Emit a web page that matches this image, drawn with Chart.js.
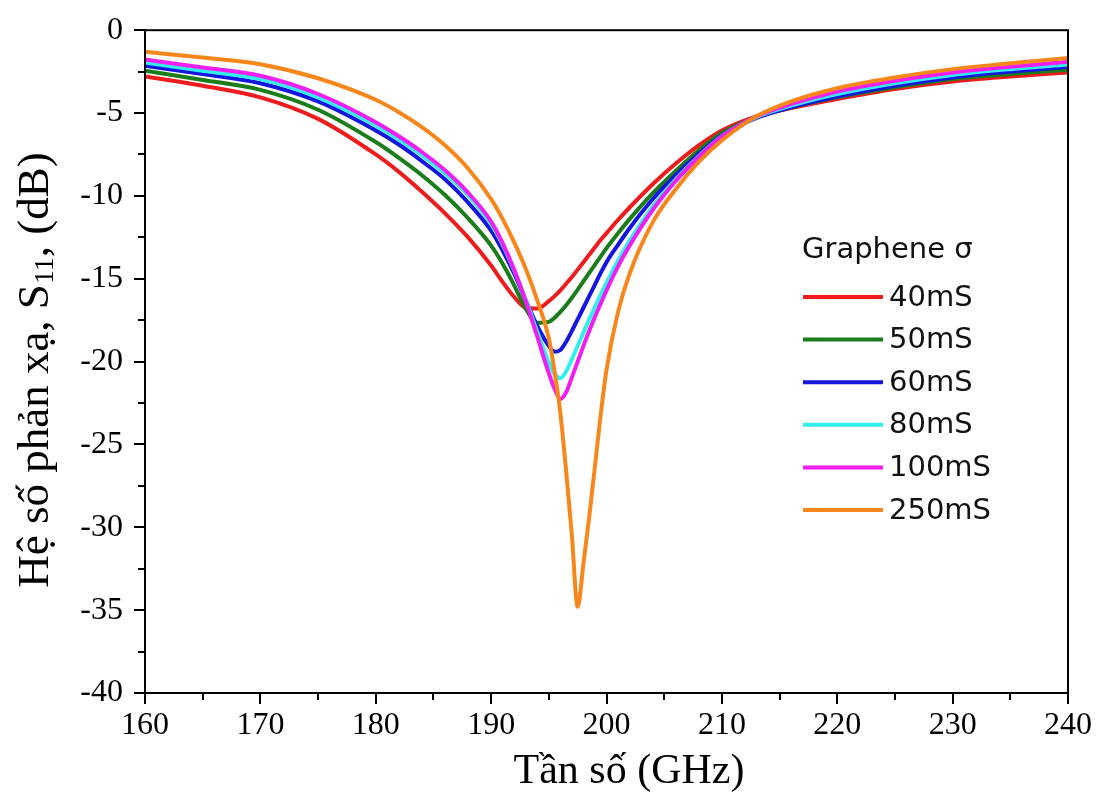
<!DOCTYPE html>
<html>
<head>
<meta charset="utf-8">
<script src="https://cdn.jsdelivr.net/npm/chart.js@4.4.1/dist/chart.umd.min.js"></script>
<style>
  body { margin: 0; background: #fff; }
  canvas { display: block; }
</style>
</head>
<body>
<canvas id="s11Chart" width="1104" height="800"></canvas>
<script>
// Tần số (GHz)
const freqs = [160, 165, 170, 175, 180, 182, 184, 186, 188, 190, 191, 192, 193, 194, 195, 195.5, 196, 196.5,
  197, 197.5, 198, 198.5, 199, 199.5, 200, 201, 202, 204, 206, 208, 210, 213, 216, 220, 225, 230, 235, 240];

// S11 (dB) theo từng giá trị độ dẫn graphene
const s40 = [-2.8, -3.35, -4.05, -5.35, -7.5, -8.55, -9.75, -11.05, -12.5, -14.2, -15.2, -16.1, -16.75, -16.8, -16.35, -16.05, -15.7, -15.3,
  -14.9, -14.45, -14.0, -13.55, -13.1, -12.65, -12.25, -11.45, -10.7, -9.3, -8.05, -6.95, -6.05, -5.2, -4.7, -4.15, -3.55, -3.1, -2.8, -2.55];
const s50 = [-2.45, -3.0, -3.6, -4.8, -6.75, -7.7, -8.75, -9.95, -11.35, -13.0, -14.1, -15.4, -16.8, -17.65, -17.6, -17.35, -17.0, -16.6,
  -16.15, -15.65, -15.15, -14.65, -14.15, -13.65, -13.15, -12.25, -11.4, -9.85, -8.5, -7.25, -6.2, -5.25, -4.65, -4.05, -3.45, -2.95, -2.65, -2.38];
const s60 = [-2.15, -2.65, -3.2, -4.3, -6.05, -6.9, -7.9, -9.0, -10.4, -12.1, -13.3, -14.7, -16.3, -17.85, -19.05, -19.4, -19.3, -18.8,
  -18.15, -17.45, -16.75, -16.05, -15.35, -14.65, -14.0, -12.95, -11.95, -10.2, -8.75, -7.45, -6.35, -5.3, -4.65, -4.0, -3.35, -2.85, -2.5, -2.22];
const s80 = [-1.95, -2.45, -2.95, -4.05, -5.75, -6.6, -7.55, -8.65, -9.95, -11.7, -12.95, -14.5, -16.25, -18.2, -20.05, -20.75, -21.0, -20.6,
  -19.85, -19.05, -18.25, -17.45, -16.7, -15.95, -15.25, -13.9, -12.7, -10.65, -9.0, -7.6, -6.4, -5.25, -4.55, -3.85, -3.2, -2.7, -2.35, -2.07];
const s100 = [-1.77, -2.25, -2.75, -3.85, -5.55, -6.4, -7.35, -8.45, -9.8, -11.55, -12.85, -14.45, -16.35, -18.5, -20.7, -21.65, -22.25, -21.85,
  -20.95, -20.0, -19.05, -18.15, -17.3, -16.5, -15.7, -14.25, -13.0, -10.85, -9.1, -7.65, -6.4, -5.2, -4.45, -3.7, -3.05, -2.55, -2.2, -1.91];
const s250 = [-1.3, -1.65, -2.05, -2.9, -4.2, -4.95, -5.85, -6.95, -8.35, -10.2, -11.4, -12.8, -14.4, -16.3, -18.6, -20.6, -23.1, -26.6,
  -30.5, -34.8, -32.2, -29.4, -26.3, -23.2, -20.5, -17.0, -14.7, -11.6, -9.6, -7.95, -6.65, -5.2, -4.3, -3.5, -2.85, -2.35, -2.0, -1.67];

const tenDuLieu = ['40mS', '50mS', '60mS', '80mS', '100mS', '250mS'];
const mauDuLieu = ['#ee1c1c', '#1a7d1a', '#1515e0', '#33eef0', '#f01ef0', '#f7861b'];
const giaTri = [s40, s50, s60, s80, s100, s250];

const yTicks = [0, -5, -10, -15, -20, -25, -30, -35, -40];
const xTicks = [160, 170, 180, 190, 200, 210, 220, 230, 240];

const serif = '"Liberation Serif", "Times New Roman", serif';
const sans = '"DejaVu Sans", Verdana, sans-serif';

// Plugin: khung, vạch phụ, chú thích, nhãn trục
const trangTri = {
    id: 'trangTri',
    afterDraw(chart) {
        const ctx = chart.ctx;
        const a = chart.chartArea;
        const xs = chart.scales.x;
        const ys = chart.scales.y;
        ctx.save();

        // khung
        ctx.strokeStyle = '#000';
        ctx.lineWidth = 2;
        ctx.strokeRect(a.left, a.top, a.right - a.left, a.bottom - a.top);

        // vạch phụ
        ctx.beginPath();
        for (let v = -2.5; v > -40; v -= 5) {
            const py = Math.round(ys.getPixelForValue(v));
            ctx.moveTo(a.left - 7, py);
            ctx.lineTo(a.left, py);
        }
        for (let v = 165; v < 240; v += 10) {
            const px = Math.round(xs.getPixelForValue(v));
            ctx.moveTo(px, a.bottom);
            ctx.lineTo(px, a.bottom + 7);
        }
        ctx.stroke();

        // chú thích
        ctx.fillStyle = '#111';
        ctx.font = '29px ' + sans;
        ctx.textAlign = 'left';
        ctx.textBaseline = 'middle';
        ctx.fillText('Graphene σ', 802, 250);
        chart.data.datasets.forEach((ds, i) => {
            const y = 297 + i * 42.6;
            ctx.strokeStyle = ds.borderColor;
            ctx.lineWidth = 4;
            ctx.beginPath();
            ctx.moveTo(803, y);
            ctx.lineTo(883, y);
            ctx.stroke();
            ctx.fillText(ds.label, 889, y + 1);
        });

        // tiêu đề trục x
        ctx.fillStyle = '#000';
        ctx.font = '42px ' + serif;
        ctx.textAlign = 'center';
        ctx.fillText('Tần số (GHz)', 629, 772);

        // tiêu đề trục y (có chỉ số dưới)
        const phan = [
            { t: 'Hệ số phản xạ, S', f: '45px ' + serif, dy: 0 },
            { t: '11', f: '28px ' + serif, dy: 10 },
            { t: ', (dB)', f: '45px ' + serif, dy: 0 }
        ];
        let tong = 0;
        phan.forEach(p => { ctx.font = p.f; p.w = ctx.measureText(p.t).width; tong += p.w; });
        ctx.translate(36, 370);
        ctx.rotate(-Math.PI / 2);
        ctx.textAlign = 'left';
        let x0 = -tong / 2;
        phan.forEach(p => {
            ctx.font = p.f;
            ctx.fillText(p.t, x0, p.dy);
            x0 += p.w;
        });
        ctx.restore();
    }
};

document.addEventListener('DOMContentLoaded', () => {
    const ctx = document.getElementById('s11Chart').getContext('2d');

    const datasets = giaTri.map((arr, i) => ({
        label: tenDuLieu[i],
        data: freqs.map((f, k) => ({ x: f, y: arr[k] })),
        borderColor: mauDuLieu[i],
        backgroundColor: mauDuLieu[i],
        borderWidth: 4,
        pointRadius: 0,
        fill: false,
        cubicInterpolationMode: 'monotone',
        order: giaTri.length - 1 - i
    }));

    new Chart(ctx, {
        type: 'line',
        data: { datasets: datasets },
        options: {
            responsive: false,
            animation: false,
            layout: { padding: { top: 22, right: 36, left: 0, bottom: 0 } },
            plugins: {
                legend: { display: false },
                tooltip: { enabled: false }
            },
            scales: {
                x: {
                    type: 'linear',
                    min: 160,
                    max: 240,
                    afterFit: s => { s.height = 107; },
                    afterBuildTicks: s => { s.ticks = xTicks.map(v => ({ value: v })); },
                    ticks: {
                        color: '#000',
                        padding: 2,
                        font: { family: serif, size: 32 }
                    },
                    grid: {
                        drawOnChartArea: false,
                        drawTicks: true,
                        tickLength: 11,
                        color: '#000',
                        lineWidth: 2
                    },
                    border: { display: true, color: '#000', width: 2 }
                },
                y: {
                    min: -40,
                    max: 0,
                    afterFit: s => { s.width = 145; },
                    afterBuildTicks: s => { s.ticks = yTicks.map(v => ({ value: v })); },
                    ticks: {
                        color: '#000',
                        padding: 11,
                        font: { family: serif, size: 32 }
                    },
                    grid: {
                        drawOnChartArea: false,
                        drawTicks: true,
                        tickLength: 11,
                        color: '#000',
                        lineWidth: 2
                    },
                    border: { display: true, color: '#000', width: 2 }
                }
            }
        },
        plugins: [trangTri]
    });
});
</script>
</body>
</html>
